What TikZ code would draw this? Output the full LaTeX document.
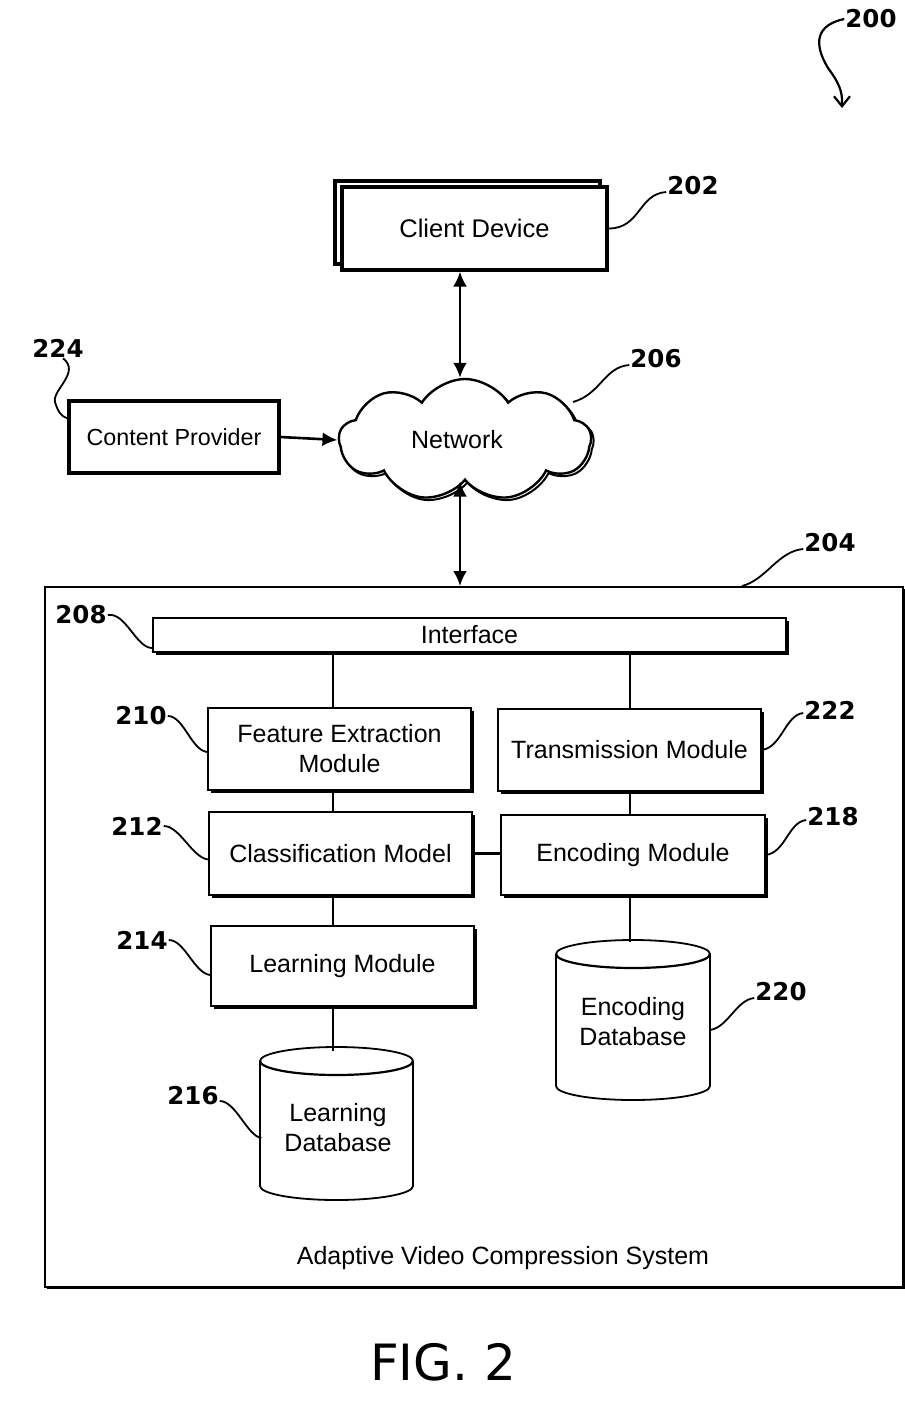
\documentclass[tikz,border=0pt]{standalone}
\usepackage{fontspec}
\setmainfont{Liberation Sans}
\newfontfamily\lab{DejaVu Sans}
\usetikzlibrary{shapes.symbols,shadows,arrows.meta}
\newcommand\dbcyl[5]{%
  \draw[line width=1.8pt, fill=white] ({#1-#4},{#2-#5}) -- ({#1-#4},{#3+#5})
    arc[start angle=180,end angle=360,x radius=#4,y radius=#5] -- ({#1+#4},{#2-#5})
    arc[start angle=0,end angle=180,x radius=#4,y radius=#5] -- cycle;
  \draw[line width=2.2pt] ({#1-#4},{#2-#5}) arc[start angle=180,end angle=360,x radius=#4,y radius=#5];}
\begin{document}
\begin{tikzpicture}[x=1pt,y=1pt,
  txt/.style={font=\fontsize{25}{30}\selectfont, align=center},
  mbox/.style={txt, draw, fill=white, line width=1.8pt, minimum width=263pt, minimum height=82pt, inner sep=0pt,
     drop shadow={shadow xshift=2.5pt, shadow yshift=-2.5pt, opacity=1, fill=black}},
  lbl/.style={font=\lab\bfseries\fontsize{24.5}{28}\selectfont, inner sep=1pt},
  lead/.style={line width=1.8pt},
  tip/.style={line width=2.6pt},
  ah/.tip={Latex[length=15pt,width=14pt]},
  link/.style={line width=2pt}]
\useasboundingbox (0,0) rectangle (905,-1406);

% reference labels
\node[lbl] (l200) at (871,-19) {200};
\coordinate (a200) at (842,-108);
\draw[lead, line width=2.2pt, -{Straight Barb[length=10pt,width=16pt]}] (l200.west) .. controls +(-28,-6) and +(-15,25) .. (828,-68) .. controls +(15,-20) and +(0,12) .. (a200);

% client device
\node[font=\fontsize{25.5}{30}\selectfont, draw, fill=white, line width=3.2pt, minimum width=265pt, minimum height=83pt,
  copy shadow={shadow xshift=-7pt, shadow yshift=6pt, draw=black, fill=white, line width=3.2pt}] (client) at (474.5,-228.5) {Client Device};
\node[lbl] (l202) at (693,-186) {202};
\draw[lead] (client.east) .. controls +(32,0) and +(-28,-2) .. ([yshift=-6pt]l202.west);

% content provider
\node[font=\fontsize{23.3}{27}\selectfont, draw, fill=white, line width=3.2pt, minimum width=210pt, minimum height=72pt] (cp) at (174,-437) {Content Provider};
\node[lbl] (l224) at (58,-348) {224};
\draw[lead] ([xshift=5pt]l224.south) .. controls +(18,-14) and +(-3,12) .. (55,-402) .. controls +(3,-10) and +(-6,2) .. ([yshift=-19pt]cp.north west);

% network cloud
\node[cloud, cloud puffs=9, cloud puff arc=115, aspect=2.1, draw, fill=white, line width=2.4pt,
  minimum width=252pt, minimum height=122pt, txt,
  copy shadow={shadow xshift=2.5pt, shadow yshift=-2.5pt, draw=black, fill=white, line width=2pt}] (net) at (465,-440) {\hspace*{-16pt}Network};
\node[lbl] (l206) at (656,-359) {206};
\draw[lead] ([shift={(108,38)}]net.center) .. controls +(28,8) and +(-25,-2) .. ([yshift=-6pt]l206.west);

\coordinate (ax) at (460,0);
\draw[tip, -ah] (cp.east) -- (net.west);

% system
\node[draw, fill=white, line width=2pt, minimum width=858pt, minimum height=700pt,
  drop shadow={shadow xshift=1.5pt, shadow yshift=-1.5pt, opacity=1, fill=black}] (sys) at (474,-937) {};
\node[lbl] (l204) at (830,-543) {204};
\draw[lead] ([xshift=268pt]sys.north) .. controls +(24,6) and +(-25,-2) .. ([yshift=-6pt]l204.west);

\draw[tip, ah-ah] (client.south -| ax) -- (net.north -| ax);
\draw[tip, ah-ah] (net.south -| ax) -- (sys.north -| ax);

% interface
\node[mbox, minimum width=633pt, minimum height=34pt] (intf) at (469.5,-635) {Interface};
\node[lbl] (l208) at (81,-615) {208};
\draw[lead] (l208.east) .. controls +(18,3) and +(-16,0) .. ([yshift=-13pt]intf.west);

% modules
\node[mbox] (fem) at (339.5,-749) {Feature Extraction\\Module};
\node[mbox] (tm)  at (629.5,-750) {Transmission Module};
\node[mbox, minimum height=83pt] (cm) at (340.5,-853.5) {Classification Model};
\node[mbox, minimum width=264pt, minimum height=80pt] (em) at (633,-855) {Encoding Module};
\node[mbox, minimum height=80pt] (lm) at (342.5,-966) {Learning Module};

% databases
\dbcyl{336.5}{-1047}{-1200}{76.5}{14}
\node[txt, minimum width=153pt, minimum height=153pt, inner sep=0pt] (ldb) at (338,-1128) {Learning\\Database};
\dbcyl{633}{-940}{-1100}{77}{14}
\node[txt, minimum width=154pt, minimum height=160pt, inner sep=0pt] (edb) at (633,-1022) {Encoding\\Database};

% links
\coordinate (lx) at (333,0);
\coordinate (rx) at (630,0);
\draw[link] (intf.south -| lx) -- (fem.north -| lx);
\draw[link] (intf.south -| rx) -- (tm.north -| rx);
\draw[link] (fem.south -| lx) -- (cm.north -| lx);
\draw[link] (cm.south -| lx) -- (lm.north -| lx);
\draw[link] (lm.south -| lx) -- (ldb.north -| lx);
\draw[link] (tm.south -| rx) -- (em.north -| rx);
\draw[link] (em.south -| rx) -- (edb.north -| rx);
\draw[line width=3pt] (cm.east) -- (cm.east -| em.west);

% module labels
\node[lbl] (l210) at (141,-716) {210};
\draw[lead] (l210.east) .. controls +(16,0) and +(-16,2) .. ([yshift=-3pt]fem.west);
\node[lbl] (l212) at (137,-826) {212};
\draw[lead] (l212.east) .. controls +(16,0) and +(-16,2) .. ([yshift=-6pt]cm.west);
\node[lbl] (l214) at (142,-940) {214};
\draw[lead] (l214.east) .. controls +(16,0) and +(-16,2) .. ([yshift=-9pt]lm.west);
\node[lbl] (l216) at (193,-1096) {216};
\draw[lead] ([yshift=-5pt]l216.east) .. controls +(16,0) and +(-14,2) .. ([yshift=-10pt]ldb.west);
\node[lbl] (l222) at (830,-710) {222};
\draw[lead] (tm.east) .. controls +(20,3) and +(-18,-2) .. ([yshift=-3pt]l222.west);
\node[lbl] (l218) at (833,-817) {218};
\draw[lead] (em.east) .. controls +(20,3) and +(-18,-2) .. ([yshift=-3pt]l218.west);
\node[lbl] (l220) at (781,-992) {220};
\draw[lead] ([yshift=-8pt]edb.east) .. controls +(18,3) and +(-18,-2) .. ([yshift=-6pt]l220.west);

\node[txt] (title) at (503,-1258) {Adaptive Video Compression System};
\node[font=\lab\fontsize{50}{60}\selectfont] (fig) at (443,-1362) {FIG. 2};
\end{tikzpicture}
\end{document}
